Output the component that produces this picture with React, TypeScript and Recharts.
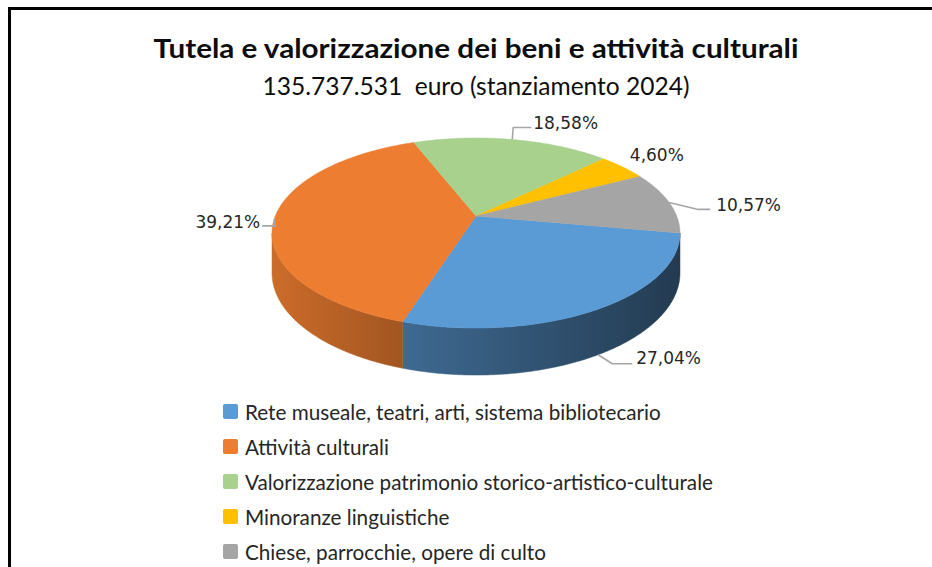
import React from 'react';
import { PieChart, Pie, Cell, Legend } from 'recharts';

// ---------- data ----------
const categories = [
  'Rete museale, teatri, arti, sistema bibliotecario',
  'Attività culturali',
  'Valorizzazione patrimonio storico-artistico-culturale',
  'Minoranze linguistiche',
  'Chiese, parrocchie, opere di culto',
];
const shares = [27.04, 39.21, 18.58, 4.6, 10.57];
const TITLE = 'Tutela e valorizzazione dei beni e attività culturali';
const SUBTITLE = '135.737.531  euro (stanziamento 2024)';

const data = categories.map((name, i) => ({ name, value: shares[i] }));

// ---------- style / layout ----------
const COLORS = ['#5B9BD5', '#ED7D31', '#A9D18E', '#FFC000', '#A5A5A5'];
const W = 932;
const H = 567;
const PIE_CX = 476;
const PIE_CY = 216;
const PIE_R = 200.7;
const TILT = 92 / 200.7;
const PERSP = 0.179;
const DEPTH = 38.6 / 200.7;
const START = -10.3;
const SIDE_FROM = -169.7;
const SIDE_TO = -10.3;
const LABEL_FONT = "'DejaVu Sans', sans-serif";
const TEXT_FONT = "Lato, 'Open Sans', sans-serif";

const LABEL_LAYOUT: any[] = [
  { fromBottom: true, elbow: [14, 9], run: 20, gap: 4, dy: -6 },
  { elbow: [1, 7], run: -13, gap: 2, dy: -4 },
  { elbow: [1, -12], run: 18, gap: 2, dy: -4 },
  { elbow: null, text: [7, -12] },
  { elbow: [29, 7], run: 12, gap: 6, dy: -4 },
];

type Pt = { x: number; y: number; s: number };
function rim(cx: number, cy: number, r: number, deg: number): Pt {
  const t = (deg * Math.PI) / 180;
  const u = Math.cos(t);
  const v = Math.sin(t);
  const s = 1 / (1 + PERSP * v);
  return { x: cx + r * u * s, y: cy - r * TILT * v * s, s };
}

function arcPts(cx: number, cy: number, r: number, a: number, b: number, drop = false) {
  const n = Math.max(2, Math.ceil(Math.abs(b - a) / 0.5) + 1);
  const pts: number[][] = [];
  for (let i = 0; i < n; i++) {
    const d = a + ((b - a) * i) / (n - 1);
    const p = rim(cx, cy, r, d);
    pts.push([p.x, drop ? p.y + r * DEPTH * p.s : p.y]);
  }
  return pts;
}

function sideRanges(s: number, e: number) {
  const lo = Math.min(s, e);
  const hi = Math.max(s, e);
  const out: number[][] = [];
  for (const k of [-720, -360, 0, 360, 720]) {
    const a = Math.max(lo + k, SIDE_FROM);
    const b = Math.min(hi + k, SIDE_TO);
    if (b - a > 0.01) out.push([a, b]);
  }
  return out;
}

function shade(hex: string, f: number) {
  const n = parseInt(hex.slice(1), 16);
  const r = (n >> 16) & 255;
  const g = (n >> 8) & 255;
  const b = n & 255;
  return `rgb(${Math.round(r * f)},${Math.round(g * f)},${Math.round(b * f)})`;
}

const fmt = (v: number) => `${v.toFixed(2).replace('.', ',')}%`;

const renderSlice = (props: any) => {
  const { cx, cy, outerRadius: r, startAngle, endAngle, index } = props;
  const color = COLORS[index % COLORS.length];
  const gid = `side-grad-${index}`;
  const top = arcPts(cx, cy, r, startAngle, endAngle);
  const topPath = `M${cx},${cy} ` + top.map((p) => `L${p[0]},${p[1]}`).join(' ') + ' Z';
  const sides = sideRanges(startAngle, endAngle).map(([a, b]) => {
    const up = arcPts(cx, cy, r, a, b);
    const down = arcPts(cx, cy, r, b, a, true);
    return 'M' + [...up, ...down].map((p) => `${p[0]},${p[1]}`).join(' L') + ' Z';
  });
  return (
    <g key={`slice-${index}`}>
      <defs>
        <linearGradient id={gid} gradientUnits="userSpaceOnUse" x1={cx - r * 1.02} x2={cx + r * 1.02} y1={0} y2={0}>
          <stop offset="0" stopColor={shade(color, 0.86)} />
          <stop offset="0.33" stopColor={shade(color, 0.68)} />
          <stop offset="1" stopColor={shade(color, 0.38)} />
        </linearGradient>
      </defs>
      {sides.map((d, k) => (
        <path key={k} d={d} fill={`url(#${gid})`} stroke={`url(#${gid})`} strokeWidth={0.5} />
      ))}
      <path d={topPath} fill={color} stroke={color} strokeWidth={0.5} />
    </g>
  );
};

const renderShareLabel = (props: any) => {
  const { cx, cy, outerRadius: r, midAngle, index } = props;
  const value = props.payload?.value ?? props.value;
  const L = LABEL_LAYOUT[index];
  const p = rim(cx, cy, r, midAngle);
  const ax = p.x;
  const ay = L.fromBottom ? p.y + r * DEPTH * p.s : p.y;
  const textProps = { fontFamily: LABEL_FONT, fontSize: 17, fill: '#262626', dominantBaseline: 'central' as any };
  if (!L.elbow) {
    return (
      <text key={`lab-${index}`} x={ax + L.text[0]} y={ay + L.text[1]} textAnchor="start" {...textProps}>
        {fmt(value)}
      </text>
    );
  }
  const ex = ax + L.elbow[0];
  const ey = ay + L.elbow[1];
  const hx = ex + L.run;
  const tx = hx + Math.sign(L.run) * L.gap;
  return (
    <g key={`lab-${index}`}>
      <polyline points={`${ax},${ay} ${ex},${ey} ${hx},${ey}`} fill="none" stroke="#A6A6A6" strokeWidth={1.6} />
      <text x={tx} y={ey + L.dy} textAnchor={L.run > 0 ? 'start' : 'end'} {...textProps}>
        {fmt(value)}
      </text>
    </g>
  );
};

const renderLegend = (props: any) => {
  const raw: any[] = props.payload || [];
  const seen = new Set<string>();
  const items = raw
    .filter((p) => {
      if (seen.has(p.value)) return false;
      seen.add(p.value);
      return true;
    })
    .sort((a, b) => categories.indexOf(a.value) - categories.indexOf(b.value));
  return (
    <svg width={520} height={175} style={{ display: 'block' }}>
      {items.map((p: any, i: number) => (
        <g key={p.value} transform={`translate(0, ${i * 35})`}>
          <rect x={8} y={11} width={15} height={15} rx={2} fill={COLORS[categories.indexOf(p.value)] || p.color} />
          <text
            transform="translate(30, 18.5) scale(0.985, 1)"
            x={0}
            y={0}
            dominantBaseline="central"
            fontFamily={TEXT_FONT}
            fontSize={21}
            fill="#262626"
          >
            {p.value}
          </text>
        </g>
      ))}
    </svg>
  );
};

export default function App() {
  return (
    <div style={{ position: 'absolute', left: 0, top: 0, width: W, height: H, background: '#fff', overflow: 'hidden' }}>
      <div
        style={{
          position: 'absolute',
          left: 8,
          top: 7,
          width: W - 8,
          height: H - 7,
          borderTop: '3px solid #000',
          borderLeft: '3px solid #000',
          boxSizing: 'border-box',
        }}
      />
      <svg style={{ position: 'absolute', left: 0, top: 0 }} width={W} height={120}>
        <text
          x={476}
          y={58}
          textAnchor="middle"
          fontFamily={TEXT_FONT}
          fontWeight="bold"
          fontSize={27}
          fill="#0d0d0d"
          textLength={645}
          lengthAdjust="spacingAndGlyphs"
        >
          {TITLE}
        </text>
        <text
          x={476}
          y={95}
          textAnchor="middle"
          fontFamily={TEXT_FONT}
          fontSize={25}
          fill="#0d0d0d"
          textLength={427}
          lengthAdjust="spacingAndGlyphs"
          style={{ whiteSpace: 'pre' }}
        >
          {SUBTITLE}
        </text>
      </svg>
      <div style={{ position: 'absolute', left: 0, top: 0 }}>
        <PieChart width={W} height={H} margin={{ top: 0, right: 0, bottom: 0, left: 0 }}>
          <Pie
            data={data}
            dataKey="value"
            nameKey="name"
            cx={PIE_CX}
            cy={PIE_CY}
            outerRadius={PIE_R}
            startAngle={START}
            endAngle={START - 360}
            isAnimationActive={false}
            stroke="none"
            fillOpacity={0}
            label={renderSlice}
            labelLine={false}
          >
            {data.map((d, i) => (
              <Cell key={d.name} fill={COLORS[i]} fillOpacity={0} />
            ))}
          </Pie>
          <Pie
            data={data}
            dataKey="value"
            nameKey="name"
            cx={PIE_CX}
            cy={PIE_CY}
            outerRadius={PIE_R}
            startAngle={START}
            endAngle={START - 360}
            isAnimationActive={false}
            stroke="none"
            fillOpacity={0}
            legendType="none"
            label={renderShareLabel}
            labelLine={false}
          >
            {data.map((d, i) => (
              <Cell key={d.name} fill={COLORS[i]} fillOpacity={0} />
            ))}
          </Pie>
          <Legend
            verticalAlign="bottom"
            content={renderLegend}
            wrapperStyle={{ left: 215, top: 393, width: 520, height: 175, bottom: 'auto' }}
          />
        </PieChart>
      </div>
    </div>
  );
}
